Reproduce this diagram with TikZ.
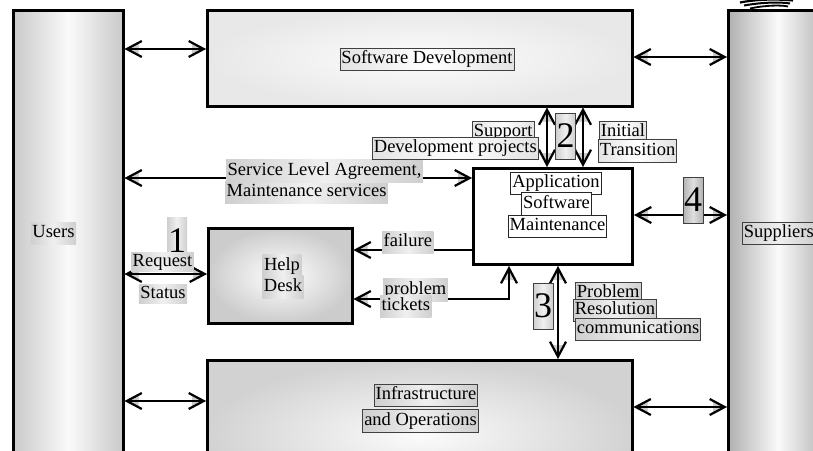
\documentclass[tikz,border=0pt]{standalone}
\usepackage{fontspec}
\setmainfont{Liberation Serif}
\usetikzlibrary{arrows.meta}
\newcommand\lblfont{\fontsize{18.5}{20}\selectfont}
\newcommand\numfont{\fontsize{36}{36}\selectfont}
\begin{document}
\begin{tikzpicture}[x=1pt,y=-1pt,
  bigbox/.style={draw=black, line width=2.5pt, inner sep=0pt, anchor=north west},
  arr/.style={line width=2.2pt,
    preaction={draw, line width=0.3pt, gray!40, arrows={Triangle[length=14pt,width=14pt]-Triangle[length=14pt,width=14pt]}},
    arrows={Straight Barb[length=15pt,width=16pt]-Straight Barb[length=15pt,width=16pt]}},
  arrone/.style={line width=2.2pt,
    preaction={draw, line width=0.3pt, gray!40, arrows={-Triangle[length=14pt,width=14pt]}},
    arrows={-Straight Barb[length=15pt,width=16pt]}},
  lbl/.style={font=\lblfont, inner xsep=1.5pt, inner ysep=2.5pt, text height=13pt, text depth=4.5pt},
  tight/.style={inner ysep=0.5pt},
  midg/.style={left color=gray!38, right color=gray!38, middle color=gray!12},
  lightg/.style={left color=gray!22, right color=gray!22, middle color=white},
  darkg/.style={left color=gray!60, right color=gray!60, middle color=gray!25},
  bord/.style={draw=black!75, line width=0.8pt},
  whitebox/.style={fill=white, draw=black!85, line width=0.8pt},
  num/.style={font=\numfont, inner sep=0pt, minimum width=20pt, minimum height=46pt}
]
\useasboundingbox (0,0) rectangle (813,450);
\clip (0,0) rectangle (813,450);

% big boxes
\node[bigbox, minimum width=110pt, minimum height=500pt, left color=gray!42, right color=gray!42, middle color=gray!4] (users) at (12,9) {};
\node[bigbox, minimum width=100pt, minimum height=500pt, left color=gray!62, right color=gray!62, middle color=gray!4] (suppliers) at (727,9) {};
\node[bigbox, minimum width=425pt, minimum height=96pt, inner color=gray!2, outer color=gray!18] (softdev) at (206,9) {};
\node[bigbox, minimum width=159pt, minimum height=96pt, fill=white, line width=3pt] (app) at (472,167) {};
\node[bigbox, minimum width=144pt, minimum height=95pt, inner color=white, outer color=gray!40] (help) at (207,227) {};
\node[bigbox, minimum width=425pt, minimum height=150pt, inner color=gray!3, outer color=gray!35] (infra) at (206,359) {};

% squiggle on top of suppliers
\draw[line width=2.2pt] (740,2.5) .. controls (758,-1) and (778,-1) .. (793,0.5);
\draw[line width=2pt] (744,5.5) .. controls (763,2) and (782,2) .. (790,3.5);
\draw[line width=1.8pt] (750,8.5) .. controls (766,5) and (782,5) .. (788,6.5);

% reference levels
\coordinate (r1) at (0,49);
\coordinate (r2) at (0,57);
\coordinate (rsla) at (0,178);
\coordinate (rapp) at (0,215);
\coordinate (rfail) at (0,250);
\coordinate (rreq) at (0,274);
\coordinate (pt) at (509,299);
\coordinate (rinfL) at (0,401);
\coordinate (rinfR) at (0,407);
\coordinate (c2a) at (547,0);
\coordinate (c2b) at (583,0);
\coordinate (c3) at (558,0);

% connectors
\draw[arr] (users.east |- r1) -- (softdev.west |- r1);
\draw[arr] (softdev.east |- r2) -- (suppliers.west |- r2);
\draw[arr] (users.east |- rsla) -- (app.west |- rsla);
\draw[arr] (users.east |- rreq) -- (help.west |- rreq);
\draw[arrone] (app.west |- rfail) -- (help.east |- rfail);
\draw[arr] (help.east |- pt) -- (pt) -- (app.south -| pt);
\draw[arr] (app.south -| c3) -- (infra.north -| c3);
\draw[arr] (softdev.south -| c2a) -- (app.north -| c2a);
\draw[arr] (softdev.south -| c2b) -- (app.north -| c2b);
\draw[arr] (app.east |- rapp) -- (suppliers.west |- rapp);
\draw[arr] (users.east |- rinfL) -- (infra.west |- rinfL);
\draw[arr] (infra.east |- rinfR) -- (suppliers.west |- rinfR);

% labels
\node[lbl, lightg, bord] (tsd) at (427,59.5) {Software Development};
\node[lbl, midg] (tusers) at (53.5,233.5) {Users};
\node[lbl, midg, bord, anchor=west] (tsup) at (742,233.5) {Suppliers};

\node[num, midg, anchor=north] (n1) at (177,217) {1};
\node[lbl, tight, midg] (treq) at (162.5,262) {Request};
\node[lbl, tight, midg] (tstat) at (163,294) {Status};

\node[lbl, midg] (thelp) at (282,266) {Help};
\node[lbl, midg] (tdesk) at (283,287) {Desk};

\node[lbl, midg, anchor=west] (tfail) at (382,242.5) {failure};
\node[lbl, midg, anchor=west] (tprob) at (383,290) {problem};
\node[lbl, midg, anchor=west] (ttick) at (380,306.5) {tickets};

\node[lbl, midg, anchor=west] (tms) at (225,192.5) {Maintenance services};
\node[lbl, midg, anchor=west] (tsla) at (226,171) {Service Level Agreement,};

\node[lbl, lightg, bord, anchor=west] (tsupp) at (472,132.5) {Support};
\node[lbl, lightg, bord, anchor=west] (tdevp) at (372,148.5) {Development projects};
\node[num, midg, bord] (n2) at (565.5,136) {2};
\node[lbl, lightg, bord, anchor=west] (tinit) at (599,132.5) {Initial};
\node[lbl, lightg, bord, anchor=west] (ttrans) at (598,151) {Transition};

\node[lbl, whitebox] (tapp1) at (556,183.5) {Application};
\node[lbl, whitebox] (tapp2) at (556.5,204) {Software};
\node[lbl, whitebox] (tapp3) at (557.5,226.5) {Maintenance};

\node[num, darkg, bord] (n4) at (693,200) {4};

\node[num, midg, bord] (n3) at (543,306) {3};
\node[lbl, midg, bord, anchor=west] (tpr1) at (575,293.5) {Problem};
\node[lbl, midg, bord, anchor=west] (tpr2) at (573,310.5) {Resolution};
\node[lbl, midg, bord, anchor=west] (tpr3) at (575,329.5) {communications};

\node[lbl, midg, bord] (tinf1) at (426,395.5) {Infrastructure};
\node[lbl, midg, bord] (tinf2) at (420.5,421) {and Operations};
\end{tikzpicture}
\end{document}
